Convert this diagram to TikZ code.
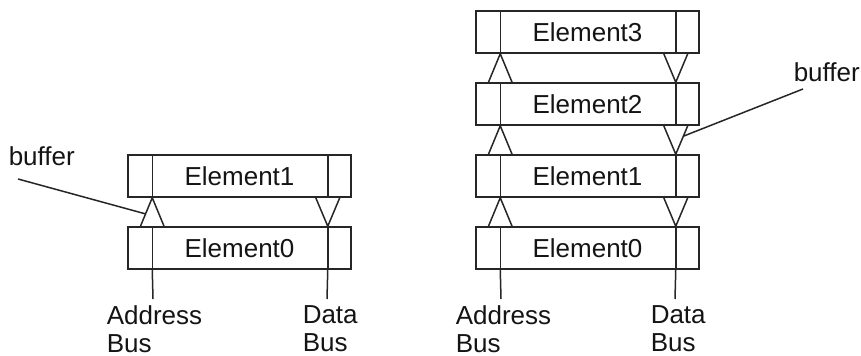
\documentclass[tikz,border=0pt]{standalone}
\usepackage{fontspec}
\setmainfont{Liberation Sans}
\usetikzlibrary{calc}
\begin{document}
\begin{tikzpicture}[x=0.5pt,y=-0.5pt,line width=0.75pt,
  every node/.style={font=\fontsize{13}{14}\selectfont,text=black!92},
  elem/.style={draw=black!85,rectangle,minimum width=111.5pt,minimum height=21pt,inner sep=0pt},
  lbl/.style={inner sep=0pt,align=left,anchor=north west},
  wire/.style={draw=black!85}]
\useasboundingbox (0,0) rectangle (861,356);

% ---------- two-element stack ----------
\node[elem] (L0) at (239.5,248) {Element0};
\node[elem] (L1) at (239.5,176) {Element1};

% ---------- four-element stack ----------
\node[elem] (R0) at (587.5,248) {Element0};
\node[elem] (R1) at (587.5,176) {Element1};
\node[elem] (R2) at (587.5,104) {Element2};
\node[elem] (R3) at (587.5,32)  {Element3};

% bus cells inside each element
\foreach \b in {L0,L1,R0,R1,R2,R3}{
  \draw[wire] ([xshift=12.5pt]\b.north west) -- ([xshift=12.5pt]\b.south west);
  \draw[wire] ([xshift=-12pt]\b.north east) -- ([xshift=-12pt]\b.south east);
}

% buffers: address upward (left), data downward (right)
\foreach \lo/\hi in {L0/L1,R0/R1,R1/R2,R2/R3}{
  \draw[wire] ([xshift=6.6pt]\lo.north west) coordinate (\lo-ua)
    -- ([xshift=12.5pt]\hi.south west) coordinate (\lo-up)
    -- ([xshift=18.4pt]\lo.north west);
  \draw[wire] ([xshift=-18pt]\hi.south east)
    -- ([xshift=-12pt]\lo.north east) coordinate (\lo-dn)
    -- ([xshift=-6pt]\hi.south east) coordinate (\lo-db);
}

% bus wires leaving the bottom element
\coordinate (LAend) at (153,299);
\coordinate (LDend) at (327,299);
\coordinate (RAend) at (501,299);
\coordinate (RDend) at (675,299);
\draw[wire] ([xshift=12.5pt]L0.south west) -- (LAend);
\draw[wire] ([xshift=-12pt]L0.south east) -- (LDend);
\draw[wire] ([xshift=12.5pt]R0.south west) -- (RAend);
\draw[wire] ([xshift=-12pt]R0.south east) -- (RDend);

% bus labels
\node[lbl] (LA) at (106,305) {Address\\Bus};
\node[lbl] (LD) at (302,305) {Data\\Bus};
\node[lbl] (RA) at (455,305) {Address\\Bus};
\node[lbl] (RD) at (650,305) {Data\\Bus};

% buffer callouts
\node[inner sep=0pt,anchor=base west] (bufL) at (8,166) {buffer};
\node[inner sep=0pt,anchor=base west] (bufR) at (793,82) {buffer};
\draw[wire] ([xshift=5pt,yshift=-6.5pt]bufL.base west) -- ($(L0-up)!0.567!(L0-ua)$);
\draw[wire] ([xshift=5pt,yshift=-3.5pt]bufR.base west) -- ($(R1-db)!0.367!(R1-dn)$);
\end{tikzpicture}
\end{document}
